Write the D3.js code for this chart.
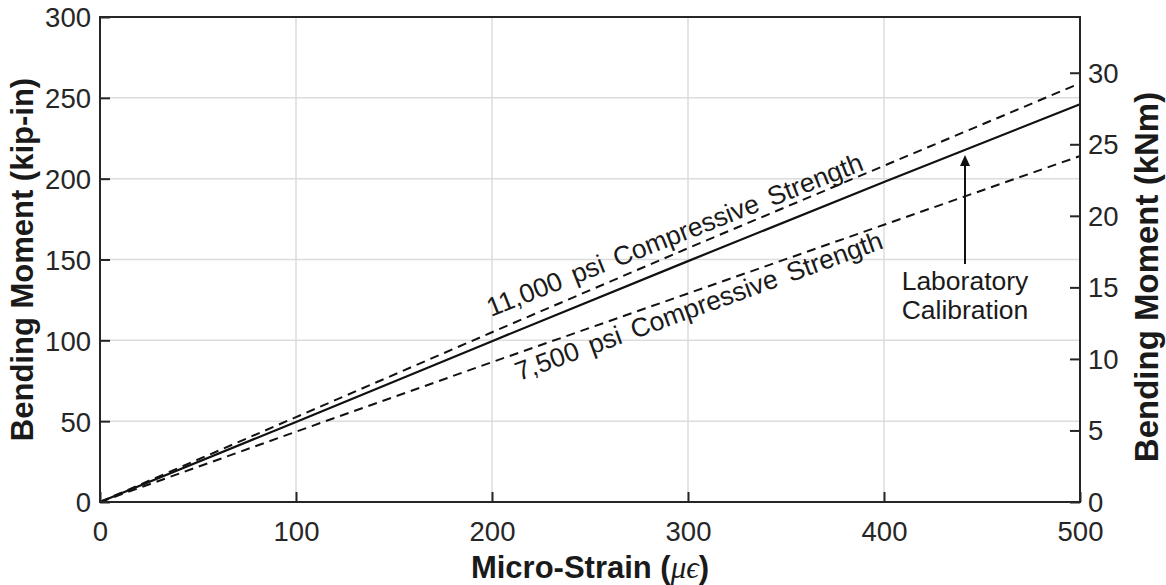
<!DOCTYPE html>
<html><head><meta charset="utf-8">
<script src="https://cdn.jsdelivr.net/npm/d3@7"></script>
<style>
html,body{margin:0;padding:0;background:#fff;}
svg{display:block;font-family:Arial,"Liberation Sans",Helvetica,sans-serif;}
</style></head>
<body>
<svg id="chart" width="1166" height="585"></svg>
<script>
// ---- data ----
const strain = [0, 100, 200, 300, 400, 500];
const labCalibration = [0, 49.5, 99.5, 149, 198, 246];
const psi11000 = [0, 52.5, 105, 157, 208, 259];
const psi7500 = [0, 43.5, 86.5, 129, 171.5, 214];
const xTicks = [0, 100, 200, 300, 400, 500];
const yTicks = [0, 50, 100, 150, 200, 250, 300];
const kNmTicks = [0, 5, 10, 15, 20, 25, 30];
const kipInToKNm = 0.112985;

const svg = d3.select("#chart");
const L = 100, R = 1080, T = 17, B = 502;
const x = d3.scaleLinear().domain([0, 500]).range([L, R]);
const y = d3.scaleLinear().domain([0, 300]).range([B, T]);
const y2 = d3.scaleLinear().domain([0, 300 * kipInToKNm]).range([B, T]);

const grid = "#dcdcdc", axisCol = "#262626";

// grid
svg.append("g").selectAll("line").data(xTicks.filter(d => d > 0 && d < 500)).join("line")
  .attr("x1", d => x(d)).attr("x2", d => x(d)).attr("y1", T).attr("y2", B)
  .attr("stroke", grid).attr("stroke-width", 1.5);
svg.append("g").selectAll("line").data(yTicks.filter(d => d > 0 && d < 300)).join("line")
  .attr("y1", d => y(d)).attr("y2", d => y(d)).attr("x1", L).attr("x2", R)
  .attr("stroke", grid).attr("stroke-width", 1.5);

// series
const line = vals => d3.line().x((d, i) => x(strain[i])).y(d => y(d))(vals);
svg.append("path").attr("d", line(psi11000)).attr("fill", "none")
  .attr("stroke", "#111").attr("stroke-width", 2).attr("stroke-dasharray", "9,6");
svg.append("path").attr("d", line(psi7500)).attr("fill", "none")
  .attr("stroke", "#111").attr("stroke-width", 2).attr("stroke-dasharray", "9,6");
svg.append("path").attr("d", line(labCalibration)).attr("fill", "none")
  .attr("stroke", "#111").attr("stroke-width", 2.2);

// axes
const fs = 27.5;
function styleAxis(g) {
  g.select(".domain").remove();
  g.selectAll(".tick line").attr("stroke", axisCol).attr("stroke-width", 2);
  g.selectAll(".tick text").attr("fill", axisCol).style("font-size", fs + "px")
    .style("font-family", "Arial, 'Liberation Sans', sans-serif");
}
const gx = svg.append("g").attr("transform", `translate(0,${B})`)
  .call(d3.axisBottom(x).tickValues(xTicks).tickSize(-10).tickPadding(0).tickFormat(d3.format("d")));
styleAxis(gx);
gx.selectAll(".tick text").attr("y", 39).attr("dy", 0);

const gy = svg.append("g").attr("transform", `translate(${L},0)`)
  .call(d3.axisLeft(y).tickValues(yTicks).tickSize(-10).tickFormat(d3.format("d")));
styleAxis(gy);
gy.selectAll(".tick text").attr("x", -9).attr("dy", "0.36em");

const gy2 = svg.append("g").attr("transform", `translate(${R},0)`)
  .call(d3.axisRight(y2).tickValues(kNmTicks).tickSize(-10).tickFormat(d3.format("d")));
styleAxis(gy2);
gy2.selectAll(".tick text").attr("x", 8).attr("dy", "0.34em");

// frame
svg.append("rect").attr("x", L).attr("y", T).attr("width", R - L).attr("height", B - T)
  .attr("fill", "none").attr("stroke", axisCol).attr("stroke-width", 2);

// titles
const tfs = 31;
const xt = svg.append("text").attr("x", (L + R) / 2).attr("y", 578).attr("text-anchor", "middle")
  .style("font-size", tfs + "px").style("font-weight", "bold").attr("fill", "#1a1a1a");
xt.append("tspan").text("Micro-Strain (");
xt.append("tspan").text("μϵ").style("font-family", "'Liberation Serif','DejaVu Serif',serif")
  .style("font-style", "italic").style("font-weight", "normal");
xt.append("tspan").text(")");

svg.append("text").attr("transform", `translate(33,${(T + B) / 2}) rotate(-90)`)
  .attr("text-anchor", "middle").style("font-size", tfs + "px").style("font-weight", "bold")
  .attr("fill", "#1a1a1a").text("Bending Moment (kip-in)");
svg.append("text").attr("transform", `translate(1158,277) rotate(-90)`)
  .attr("text-anchor", "middle").style("font-size", "33px").style("font-weight", "bold")
  .attr("fill", "#1a1a1a").text("Bending Moment (kNm)");

// annotations
const afs = 26.5;
svg.append("text").attr("transform", `translate(491,317) rotate(-21.5)`)
  .style("font-size", afs + "px").style("word-spacing", "4px").attr("fill", "#1a1a1a")
  .text("11,000 psi Compressive Strength");
svg.append("text").attr("transform", `translate(519,381) rotate(-20)`)
  .style("font-size", afs + "px").style("word-spacing", "4px").attr("fill", "#1a1a1a")
  .text("7,500 psi Compressive Strength");
svg.append("text").attr("x", 965).attr("y", 290).attr("text-anchor", "middle")
  .style("font-size", afs + "px").attr("fill", "#1a1a1a").text("Laboratory");
svg.append("text").attr("x", 965).attr("y", 319).attr("text-anchor", "middle")
  .style("font-size", afs + "px").attr("fill", "#1a1a1a").text("Calibration");

// arrow
svg.append("line").attr("x1", 965).attr("x2", 965).attr("y1", 264).attr("y2", 162)
  .attr("stroke", "#111").attr("stroke-width", 2);
svg.append("path").attr("d", "M965,155 L960,166 L970,166 Z").attr("fill", "#111");
</script>
</body></html>
